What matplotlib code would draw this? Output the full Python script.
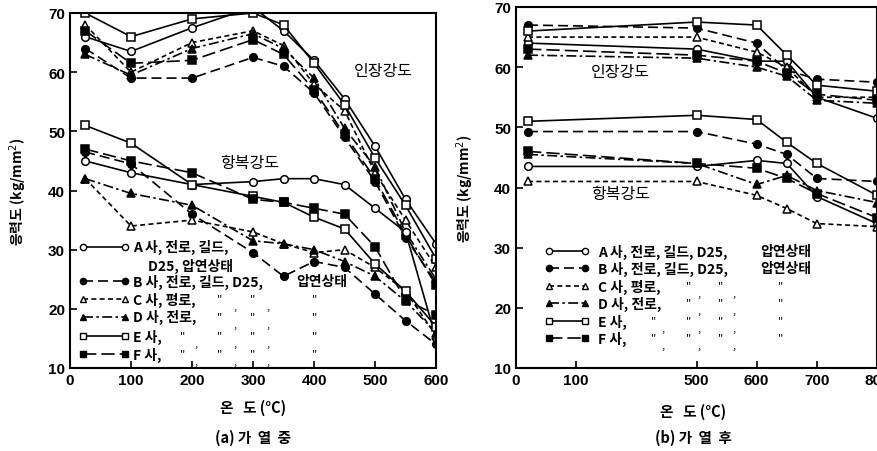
import numpy as np
import matplotlib
matplotlib.use("Agg")
import matplotlib.pyplot as plt

plt.rcParams['font.family'] = ['Noto Sans CJK KR', 'DejaVu Sans']

# (a) during heating
temp_a = [25, 100, 200, 300, 350, 400, 450, 500, 550, 600]
tens_a = {
    "A": [66, 63.5, 67.5, 71, 67, 62, 55.5, 47.5, 38.5, 31],
    "B": [64, 59, 59, 62.5, 61, 56.5, 49, 41.5, 32, 24.5],
    "C": [68, 60, 65, 67, 64.5, 58, 53.5, 43, 35, 27],
    "D": [63, 59.5, 64, 66.5, 64, 59, 50.5, 44, 33, 25],
    "E": [70, 66, 69, 70, 68, 61.5, 54.5, 45.5, 37.5, 28.5],
    "F": [67, 61.5, 62, 65.5, 63, 57, 49.5, 42, 32.5, 24],
}
yld_a = {
    "A": [45, 43, 41, 41.5, 42, 42, 41, 37, 33, 15],
    "B": [46.5, 44.5, 36, 29.5, 25.5, 28, 27, 22.5, 18, 14],
    "C": [42, 34, 35, 33, 31, 29.5, 30, 27, 23, 15.5],
    "D": [42, 39.5, 37.5, 31.5, 31, 30, 28, 25.5, 21.3, 16],
    "E": [51, 48, 41, 39, 38, 35.5, 33.5, 27.6, 23, 17],
    "F": [47, 45, 43, 38.5, 38, 37, 36, 30.5, 21.5, 19],
}

# (b) after heating
temp_b = [20, 500, 600, 650, 700, 800]
tens_b = {
    "A": [64, 63, 61, 61, 55, 51.5],
    "B": [67, 66.5, 64, 59.5, 58, 57.5],
    "C": [65, 65, 62.5, 60, 55, 55],
    "D": [62, 61.5, 60, 58.5, 54.5, 54],
    "E": [66, 67.5, 67, 62, 57, 56],
    "F": [63, 62, 61, 59, 55.5, 54.5],
}
yld_b = {
    "A": [43.5, 43.5, 44.5, 44, 38.5, 34],
    "B": [49.3, 49.3, 47.2, 45.5, 41.5, 41],
    "C": [41, 41, 38.7, 36.5, 34, 33.5],
    "D": [45.5, 44, 40.5, 42, 39.5, 37.5],
    "E": [51, 52, 51.3, 47.5, 44, 38.7],
    "F": [46, 44, 43.2, 41.5, 39, 35],
}

styles = {
    "A": dict(ls='-', marker='o', mfc='white'),
    "B": dict(ls=(0, (6, 3)), marker='o', mfc='black'),
    "C": dict(ls=(0, (3, 2)), marker='^', mfc='white'),
    "D": dict(ls=(0, (6, 2, 1.5, 2)), marker='^', mfc='black'),
    "E": dict(ls='-', marker='s', mfc='white'),
    "F": dict(ls=(0, (8, 3)), marker='s', mfc='black'),
}

yticks = [10, 20, 30, 40, 50, 60, 70]
ylab = "응력도 (kg/mm$^2$)"
bold = dict(fontweight='bold')
LFS = 10


def draw_series(ax, temps, data):
    for k, vals in data.items():
        st = styles[k]
        ax.plot(temps, vals, color='black', lw=1.2, ls=st['ls'],
                marker=st['marker'], mfc=st['mfc'], mec='black',
                ms=5.5, mew=1.1)


def legend_rows(ax, x0, x1, xt, rows_y, labels):
    for (k, y), lab in zip(zip(styles.keys(), rows_y), labels):
        st = styles[k]
        ax.plot([x0, x1], [y, y], transform=ax.transAxes, color='black',
                lw=1.2, ls=st['ls'], marker=st['marker'], mfc=st['mfc'],
                mec='black', ms=4.5, mew=1.0, clip_on=False)
        ax.text(xt, y, lab, transform=ax.transAxes, fontsize=LFS,
                va='center', ha='left', **bold)


def dittos(ax, xs, commas, y):
    for x in xs:
        ax.text(x, y, '"', transform=ax.transAxes, fontsize=8,
                ha='center', va='center')
    for x in commas:
        ax.text(x, y - 0.02, ',', transform=ax.transAxes, fontsize=8,
                ha='center', va='center')


def style_axes(ax):
    ax.set_ylim(10, 70)
    ax.set_yticks(yticks)
    ax.tick_params(direction='in', length=5, width=1.2, labelsize=11)
    for lab in ax.get_xticklabels() + ax.get_yticklabels():
        lab.set_fontweight('bold')
        lab.set_family(['Liberation Sans', 'DejaVu Sans'])
    for sp in ax.spines.values():
        sp.set_linewidth(1.5)


fig = plt.figure(figsize=(8.77, 4.52), dpi=100)

# ---------- (a) ----------
ax1 = fig.add_axes([70 / 877, 1 - 369 / 452, 366 / 877, 355 / 452])
draw_series(ax1, temp_a, tens_a)
draw_series(ax1, temp_a, yld_a)
ax1.set_xlim(0, 600)
ax1.set_xticks([0, 100, 200, 300, 400, 500, 600])
style_axes(ax1)

ax1.text(0.855, 0.837, "인장강도", transform=ax1.transAxes, fontsize=11.5,
         ha='center', va='center')
ax1.text(0.492, 0.580, "항복강도", transform=ax1.transAxes, fontsize=11.5,
         ha='center', va='center')

rows_a = [0.341, 0.245, 0.194, 0.144, 0.090, 0.039]
labs_a = ["A 사, 전로, 길드,", "B 사, 전로, 길드, D25,", "C 사, 평로,",
          "D 사, 전로,", "E 사,", "F 사,"]
legend_rows(ax1, 0.036, 0.150, 0.172, rows_a, labs_a)
ax1.text(0.212, 0.290, "D25, 압연상태", transform=ax1.transAxes,
         fontsize=LFS, va='center', ha='left', **bold)
ax1.text(0.617, 0.245, "압연상태", transform=ax1.transAxes,
         fontsize=LFS, va='center', ha='left', **bold)
for y in rows_a[2:4]:
    dittos(ax1, [0.410, 0.500, 0.669], [0.451, 0.541], y)
for y in rows_a[4:]:
    dittos(ax1, [0.309, 0.410, 0.500, 0.669], [0.344, 0.451, 0.541], y)

ax1.text(-0.142, 0.5, ylab, transform=ax1.transAxes, rotation=90,
         fontsize=10, ha='center', va='center', **bold)
fig.text(253 / 877, 1 - 408 / 452, "온   도 (°C)", fontsize=10.5,
         ha='center', va='center', **bold)
fig.text(253 / 877, 1 - 438 / 452, "(a) 가  열  중", fontsize=10.5,
         ha='center', va='center', **bold)

# ---------- (b) ----------
bx = [0, 100, 500, 800]
bu = [0, 100, 300, 600]


def fwd(x):
    return np.interp(x, bx, bu)


def inv(u):
    return np.interp(u, bu, bx)


ax2 = fig.add_axes([516 / 877, 1 - 369 / 452, 361 / 877, 361 / 452])
ax2.set_xscale('function', functions=(fwd, inv))
draw_series(ax2, temp_b, tens_b)
draw_series(ax2, temp_b, yld_b)
ax2.set_xlim(0, 800)
ax2.set_xticks([0, 100, 500, 600, 700, 800])
ax2.set_xticklabels(["0", "100", "500", "600", "700", "800"])
style_axes(ax2)

ax2.text(0.289, 0.820, "인장강도", transform=ax2.transAxes, fontsize=11.5,
         ha='center', va='center')
ax2.text(0.289, 0.482, "항복강도", transform=ax2.transAxes, fontsize=11.5,
         ha='center', va='center')

rows_b = [0.324, 0.277, 0.227, 0.180, 0.130, 0.083]
labs_b = ["A 사, 전로, 길드, D25,", "B 사, 전로, 길드, D25,", "C 사, 평로,",
          "D 사, 전로,", "E 사,", "F 사,"]
legend_rows(ax2, 0.092, 0.192, 0.228, rows_b, labs_b)
for y in rows_b[:2]:
    ax2.text(0.678, y, "압연상태", transform=ax2.transAxes, fontsize=LFS,
             va='center', ha='left', **bold)
for y in rows_b[2:4]:
    dittos(ax2, [0.478, 0.567, 0.733], [0.508, 0.603], y)
for y in rows_b[4:]:
    dittos(ax2, [0.381, 0.478, 0.567, 0.733], [0.408, 0.508, 0.603], y)

ax2.text(-0.14, 0.5, ylab, transform=ax2.transAxes, rotation=90,
         fontsize=10, ha='center', va='center', **bold)
fig.text(693 / 877, 1 - 412 / 452, "온   도 (°C)", fontsize=10.5,
         ha='center', va='center', **bold)
fig.text(693 / 877, 1 - 438 / 452, "(b) 가  열  후", fontsize=10.5,
         ha='center', va='center', **bold)

fig.savefig("out.png", dpi=100)
